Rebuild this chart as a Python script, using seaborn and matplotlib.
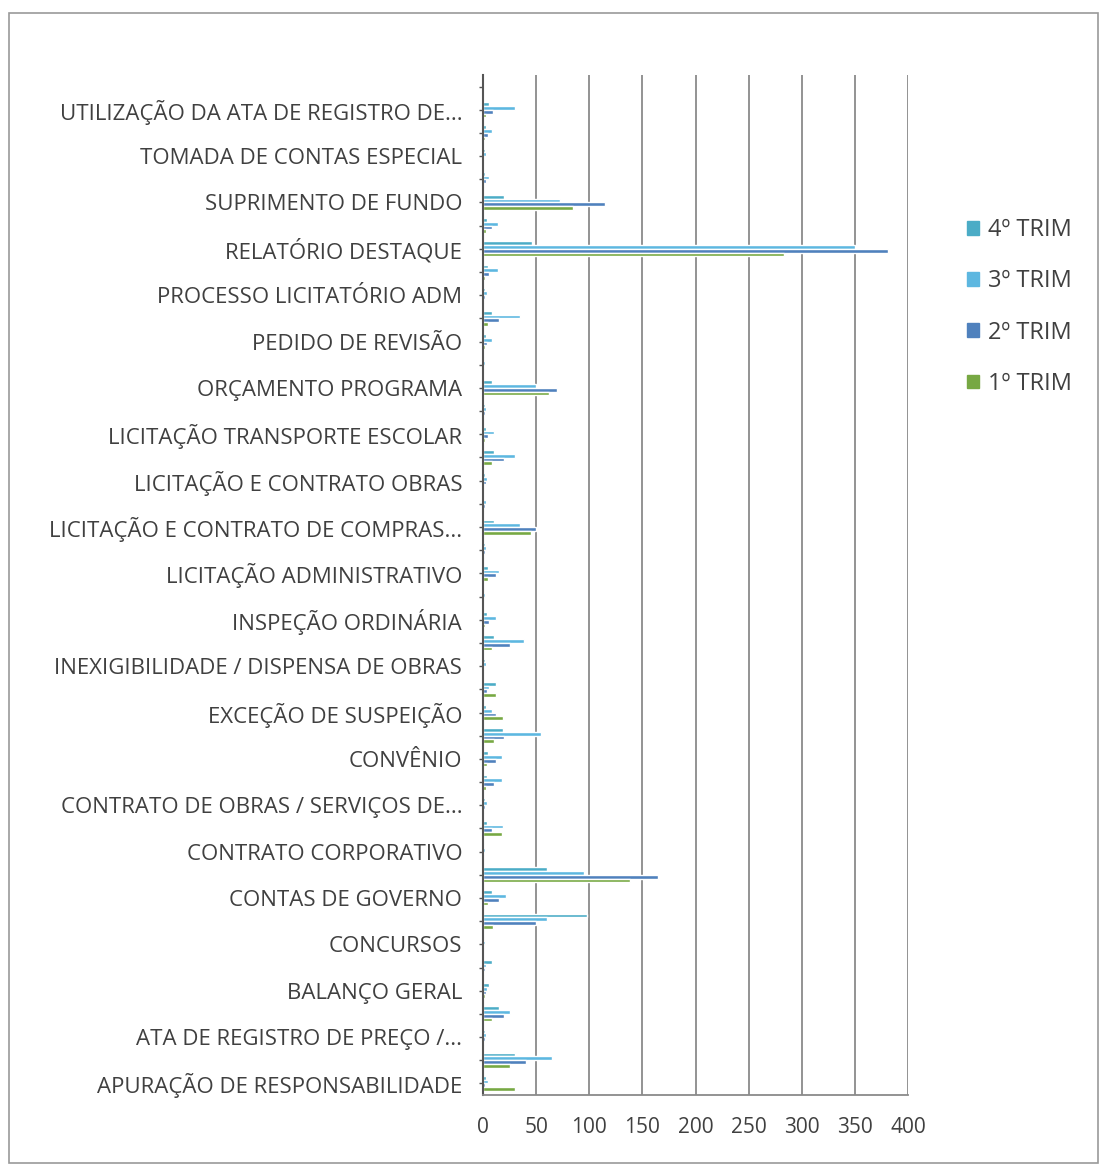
import pandas as pd
import numpy as np
import matplotlib
matplotlib.use('Agg')
import matplotlib.pyplot as plt
from matplotlib.patches import Rectangle
import seaborn as sns

# categorias de cima para baixo (apenas as alternadas aparecem no eixo, como no Excel)
categorias = [
    'VERIFICAÇÃO DE ATOS',
    'UTILIZAÇÃO DA ATA DE REGISTRO DE...',
    'TOMADA DE PREÇOS',
    'TOMADA DE CONTAS ESPECIAL',
    'TERMO DE AJUSTAMENTO DE GESTÃO',
    'SUPRIMENTO DE FUNDO',
    'REPRESENTAÇÃO',
    'RELATÓRIO DESTAQUE',
    'RECURSO ORDINÁRIO',
    'PROCESSO LICITATÓRIO ADM',
    'PRESTAÇÃO DE CONTAS',
    'PEDIDO DE REVISÃO',
    'PEDIDO DE RECONSIDERAÇÃO',
    'ORÇAMENTO PROGRAMA',
    'MONITORAMENTO',
    'LICITAÇÃO TRANSPORTE ESCOLAR',
    'LICITAÇÃO PREGÃO',
    'LICITAÇÃO E CONTRATO OBRAS',
    'LICITAÇÃO E CONTRATO DE SERVIÇOS',
    'LICITAÇÃO E CONTRATO DE COMPRAS...',
    'LICITAÇÃO DE OBRAS',
    'LICITAÇÃO ADMINISTRATIVO',
    'LEI ORÇAMENTÁRIA ANUAL',
    'INSPEÇÃO ORDINÁRIA',
    'INSPEÇÃO EXTRAORDINÁRIA',
    'INEXIGIBILIDADE / DISPENSA DE OBRAS',
    'INEXIGIBILIDADE / DISPENSA DE COMPRAS',
    'EXCEÇÃO DE SUSPEIÇÃO',
    'DENÚNCIA',
    'CONVÊNIO',
    'CONTROLE INTERNO',
    'CONTRATO DE OBRAS / SERVIÇOS DE...',
    'CONTRATO DE COMPRAS',
    'CONTRATO CORPORATIVO',
    'CONTRATO ADMINISTRATIVO',
    'CONTAS DE GOVERNO',
    'CONTAS DE GESTÃO',
    'CONCURSOS',
    'CONCESSÃO DE APOSENTADORIA',
    'BALANÇO GERAL',
    'AUDITORIA',
    'ATA DE REGISTRO DE PREÇO /...',
    'ATA DE REGISTRO DE PREÇO',
    'APURAÇÃO DE RESPONSABILIDADE',
]

trim4 = [0, 6, 3, 2, 2, 20, 4, 46, 5, 2, 8, 3, 1, 8, 2, 3, 10, 2, 1, 10, 2, 5,
         1, 4, 10, 2, 12, 3, 19, 5, 4, 2, 4, 1, 60, 8, 98, 1, 8, 6, 15, 2, 30, 3]
trim3 = [0, 30, 8, 3, 6, 72, 14, 350, 14, 4, 35, 8, 2, 50, 3, 10, 30, 4, 3, 35, 3, 15,
         2, 12, 39, 3, 6, 8, 55, 18, 18, 4, 19, 2, 95, 22, 60, 2, 3, 4, 25, 3, 65, 5]
trim2 = [0, 9, 5, 1, 3, 115, 8, 381, 6, 2, 15, 4, 1, 70, 2, 5, 20, 3, 2, 50, 2, 12,
         1, 6, 25, 1, 4, 12, 20, 12, 10, 2, 8, 1, 165, 15, 50, 1, 2, 3, 20, 2, 40, 2]
trim1 = [0, 3, 2, 0, 1, 85, 3, 283, 2, 1, 5, 2, 0, 62, 1, 2, 8, 1, 1, 45, 1, 5,
         0, 2, 8, 0, 12, 19, 10, 4, 3, 1, 18, 1, 138, 5, 9, 0, 1, 2, 8, 1, 25, 30]

series = ['4º TRIM', '3º TRIM', '2º TRIM', '1º TRIM']
cores = ['#4BACC6', '#5DB7E0', '#4F81BD', '#77A843']
xticks = [0, 50, 100, 150, 200, 250, 300, 350, 400]

df = pd.DataFrame({'categoria': categorias, '4º TRIM': trim4, '3º TRIM': trim3,
                   '2º TRIM': trim2, '1º TRIM': trim1})
longo = df.melt(id_vars='categoria', var_name='trimestre', value_name='valor')

sns.set_theme(style='white')
plt.rcParams['font.family'] = ['Open Sans', 'DejaVu Sans']
texto = '#404040'

fig = plt.figure(figsize=(11.04, 11.69), dpi=100)
ax = fig.add_axes([483 / 1104, 1 - 1095 / 1169, (908 - 483) / 1104, (1095 - 75) / 1169])

sns.barplot(data=longo, y='categoria', x='valor', hue='trimestre', order=categorias,
            hue_order=series, palette=cores, orient='h', width=0.65, gap=0,
            saturation=1, ax=ax, legend=True)

ax.set_xlim(0, 400)
ax.set_ylim(len(categorias) - 0.5, -0.5)
ax.set_xticks(xticks)
ax.set_xticklabels([str(v) for v in xticks], fontsize=15, color=texto)
ax.set_yticks(range(len(categorias)))
ax.set_yticklabels([c if i % 2 == 1 else '' for i, c in enumerate(categorias)],
                   fontsize=16, color=texto)
ax.set_xlabel('')
ax.set_ylabel('')

ax.grid(axis='x', color='#8a8a8a', linewidth=1.3)
ax.grid(axis='y', visible=False)
ax.set_axisbelow(True)
for lado in ['top', 'right']:
    ax.spines[lado].set_visible(False)
ax.spines['left'].set_color('#555555')
ax.spines['left'].set_linewidth(1.5)
ax.spines['bottom'].set_color('#8a8a8a')
ax.spines['bottom'].set_linewidth(1.3)
ax.tick_params(axis='x', length=0, pad=16)
ax.tick_params(axis='y', left=True, length=3, width=1, color='#555555', pad=12)

ax.get_legend().remove()
handles = [Rectangle((0, 0), 1, 1, color=c) for c in cores]
fig.legend(handles, series, loc='upper left', bbox_to_anchor=(946 / 1104, 1 - 197 / 1169),
           frameon=False, fontsize=17, labelcolor=texto, handlelength=0.5,
           handleheight=0.5, handletextpad=0.4, labelspacing=1.15)

# borda da área do gráfico
fig.add_artist(Rectangle((9 / 1104, 1 - 1163 / 1169), 1089 / 1104, 1150 / 1169,
                         transform=fig.transFigure, fill=False,
                         edgecolor='#9a9a9a', linewidth=1.2))

fig.savefig('out.png', dpi=100)
